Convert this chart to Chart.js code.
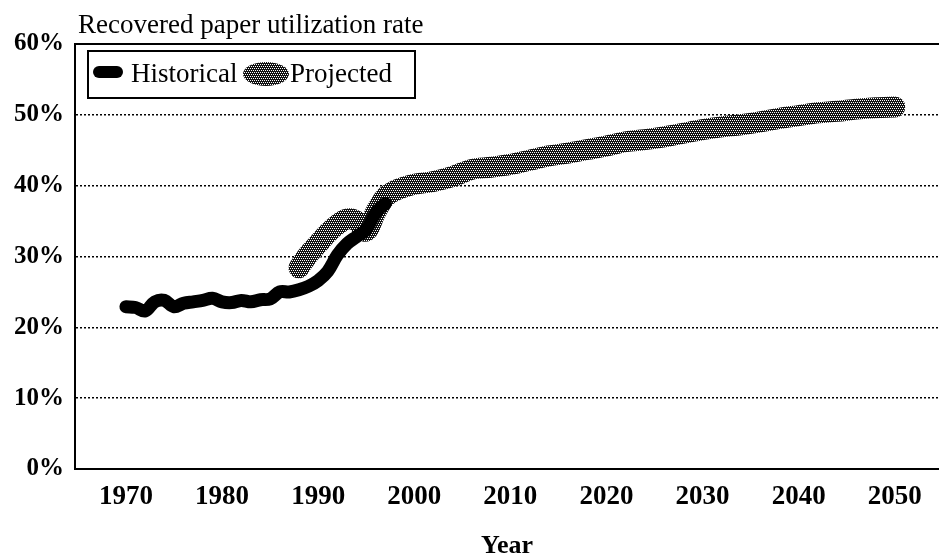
<!DOCTYPE html>
<html>
<head>
<meta charset="utf-8">
<script src="https://cdn.jsdelivr.net/npm/chart.js@4/dist/chart.umd.min.js"></script>
<style>
  body { margin: 0; background: #fff; }
</style>
</head>
<body>
<canvas id="rateChart" width="939" height="559"></canvas>
<script>
// Données
const chartTitle = 'Recovered paper utilization rate';
const xAxisTitle = 'Year';
const xTickYears = [1970, 1980, 1990, 2000, 2010, 2020, 2030, 2040, 2050];
const yTickValues = [0, 10, 20, 30, 40, 50, 60];

const historicalLabel = 'Historical';
const historicalYears = [1970, 1971, 1972, 1973, 1974, 1975, 1976, 1977, 1978, 1979,
  1980, 1981, 1982, 1983, 1984, 1985, 1986, 1987, 1988, 1989,
  1990, 1991, 1992, 1993, 1994, 1995, 1996, 1997];
const historicalValues = [22.9, 22.8, 22.3, 23.6, 23.8, 22.9, 23.4, 23.6, 23.8, 24.1,
  23.6, 23.5, 23.8, 23.6, 23.9, 24.0, 25.0, 25.0, 25.3, 25.8,
  26.6, 27.9, 30.2, 31.8, 32.8, 33.8, 36.2, 37.5];

const projectedLabel = 'Projected';
const projectedYears = [1988, 1989, 1990, 1991, 1992, 1993, 1994, 1995, 1996, 1997,
  1998, 1999, 2000, 2002, 2004, 2006, 2008, 2010, 2012, 2014,
  2016, 2018, 2020, 2022, 2024, 2026, 2028, 2030, 2032, 2034,
  2036, 2038, 2040, 2042, 2044, 2046, 2048, 2050];
const projectedValues = [28.4, 30.3, 31.8, 33.3, 34.5, 35.3, 35.0, 33.6, 36.3, 38.4,
  39.3, 39.8, 40.2, 40.6, 41.3, 42.3, 42.6, 43.0, 43.6, 44.2,
  44.6, 45.1, 45.6, 46.2, 46.5, 46.9, 47.4, 47.9, 48.3, 48.6,
  49.0, 49.5, 49.9, 50.3, 50.5, 50.8, 51.0, 51.1];

const serif = '"Liberation Serif", "Times New Roman", serif';

// Motif pointillé (trous blancs en quinconce) pour la courbe projetée
function makeDotPattern() {
  const tile = document.createElement('canvas');
  tile.width = 4;
  tile.height = 4;
  const t = tile.getContext('2d');
  t.fillStyle = '#111';
  t.fillRect(0, 0, 4, 4);
  t.fillStyle = '#fff';
  const holes = [[0, 0], [2, 0], [1, 2], [3, 2]];
  holes.forEach(([x, y]) => t.fillRect(x, y, 1, 1));
  return document.getElementById('rateChart').getContext('2d').createPattern(tile, 'repeat');
}
const dotPattern = makeDotPattern();

const toPoints = (xs, ys) => xs.map((x, i) => ({ x: x, y: ys[i] }));

// Titre, bordure du haut et légende encadrée
const framePlugin = {
  id: 'frame',
  afterDraw(chart) {
    const ctx = chart.ctx;
    const area = chart.chartArea;
    ctx.save();

    ctx.strokeStyle = '#000';
    ctx.lineWidth = 2;
    ctx.beginPath();
    ctx.moveTo(area.left, area.top);
    ctx.lineTo(area.right, area.top);
    ctx.stroke();

    ctx.fillStyle = '#000';
    ctx.font = '27px ' + serif;
    ctx.textBaseline = 'alphabetic';
    ctx.textAlign = 'left';
    ctx.fillText(chartTitle, 78, 33);

    // légende
    const bx = 88, by = 51, bw = 327, bh = 47;
    ctx.lineWidth = 2;
    ctx.strokeRect(bx, by, bw, bh);

    ctx.strokeStyle = '#000';
    ctx.lineWidth = 12;
    ctx.lineCap = 'round';
    ctx.beginPath();
    ctx.moveTo(99, 72);
    ctx.lineTo(117, 72);
    ctx.stroke();

    ctx.font = '27px ' + serif;
    ctx.fillText(chart.data.datasets[0].label, 131, 82);

    ctx.fillStyle = dotPattern;
    ctx.beginPath();
    ctx.ellipse(266, 74, 23, 12, 0, 0, Math.PI * 2);
    ctx.fill();

    ctx.fillStyle = '#000';
    ctx.fillText(chart.data.datasets[1].label, 290, 82);

    ctx.restore();
  }
};

const ctx = document.getElementById('rateChart').getContext('2d');
const chart = new Chart(ctx, {
  type: 'line',
  data: {
    datasets: [{
      label: historicalLabel,
      data: toPoints(historicalYears, historicalValues),
      borderColor: '#000',
      borderWidth: 13,
      borderCapStyle: 'round',
      borderJoinStyle: 'round',
      tension: 0.35,
      pointRadius: 0,
      fill: false
    }, {
      label: projectedLabel,
      data: toPoints(projectedYears, projectedValues),
      borderColor: dotPattern,
      borderWidth: 21,
      borderCapStyle: 'round',
      borderJoinStyle: 'round',
      tension: 0.35,
      pointRadius: 0,
      fill: false
    }]
  },
  options: {
    responsive: false,
    animation: false,
    layout: { padding: { top: 44, right: 0, left: 0, bottom: 0 } },
    plugins: {
      legend: { display: false },
      title: { display: false },
      tooltip: { enabled: false }
    },
    scales: {
      x: {
        type: 'linear',
        min: 1964.7,
        max: 2054.6,
        afterBuildTicks: scale => {
          scale.ticks = xTickYears.map(v => ({ value: v }));
        },
        afterFit: scale => { scale.height = 90; },
        grid: { display: false, drawTicks: false },
        border: { display: true, color: '#000', width: 2 },
        ticks: {
          color: '#000',
          padding: 12,
          maxRotation: 0,
          autoSkip: false,
          font: { family: serif, size: 27, weight: 'bold' },
          callback: value => String(value)
        },
        title: {
          display: true,
          text: xAxisTitle,
          color: '#000',
          padding: { top: 17, bottom: 0 },
          font: { family: serif, size: 26, weight: 'bold', lineHeight: 1 }
        }
      },
      y: {
        min: 0,
        max: 60,
        afterBuildTicks: scale => {
          scale.ticks = yTickValues.map(v => ({ value: v }));
        },
        afterFit: scale => { scale.width = 75; },
        grid: {
          drawTicks: false,
          color: c => (c.tick && c.tick.value > 0 ? '#000' : 'rgba(0,0,0,0)'),
          lineWidth: 1.5
        },
        border: { display: true, color: '#000', width: 2, dash: [2, 2] },
        ticks: {
          color: '#000',
          padding: 11,
          font: { family: serif, size: 25, weight: 'bold' },
          callback: value => value + '%'
        }
      }
    }
  },
  plugins: [framePlugin]
});
</script>
</body>
</html>
